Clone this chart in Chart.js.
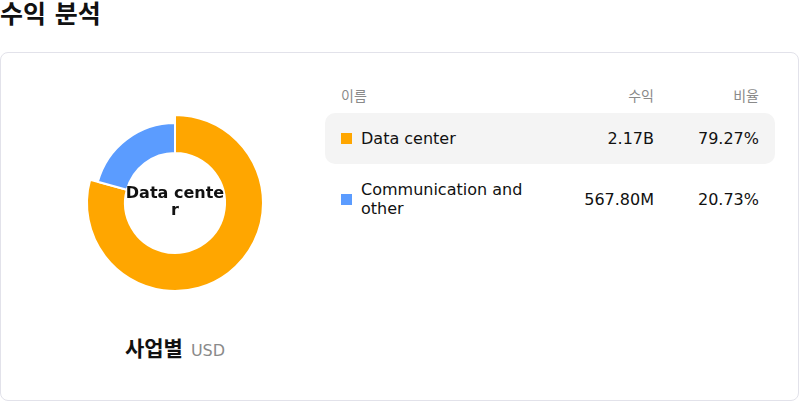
<!DOCTYPE html>
<html>
<head>
<meta charset="utf-8">
<script src="https://cdn.jsdelivr.net/npm/chart.js@4.4.1/dist/chart.umd.min.js"></script>
<style>
  body { margin: 0; width: 800px; height: 402px; background: #fff; font-family: "DejaVu Sans", "Noto Sans CJK KR", sans-serif; position: relative; overflow: hidden; color: #111; }
  .title { position: absolute; left: 0; top: 0; font-size: 25px; font-weight: bold; line-height: 30px; }
  .card { position: absolute; left: 0; top: 52px; width: 797px; height: 347px; border: 1px solid #e2e2ea; border-radius: 8px; }
  .donut { position: absolute; left: 75px; top: 103px; width: 200px; height: 200px; }
  .center-label { position: absolute; left: 125px; top: 184px; width: 100px; text-align: center; font-weight: bold; font-size: 16px; line-height: 17px; word-break: break-all; }
  .caption { position: absolute; left: 0; top: 336px; width: 350px; text-align: center; line-height: 26px; }
  .caption b { font-size: 21px; }
  .caption span { font-size: 16px; color: #8a8a8a; margin-left: 8px; }
  .tbl { position: absolute; left: 325px; top: 83px; width: 450px; }
  .row { display: flex; align-items: center; border-radius: 10px; }
  .row.head { height: 24px; font-size: 14px; color: #8a8a8a; margin-bottom: 6px; }
  .row.item { padding: 16px 0; font-size: 16px; line-height: 19px; }
  .row.active { background: #f4f4f4; }
  .c1 { width: 219px; padding-left: 16px; display: flex; align-items: center; }
  .c1 .txt { width: 185px; }
  .c2 { width: 94px; padding-right: 16px; text-align: right; }
  .c3 { width: 89px; padding-right: 16px; text-align: right; }
  .sq { width: 11px; height: 11px; margin-right: 9px; flex: none; }
</style>
</head>
<body>
<div class="title">수익 분석</div>
<div class="card"></div>
<div class="donut"><canvas id="donut"></canvas></div>
<div class="center-label" id="centerLabel"></div>
<div class="caption"><b>사업별</b><span>USD</span></div>
<div class="tbl" id="tbl"></div>
<script>
const categories = ['Data center', 'Communication and other'];
const revenue = [2170000000, 567800000];
const revenueLabels = ['2.17B', '567.80M'];
const shareLabels = ['79.27%', '20.73%'];
const colors = ['#ffa600', '#5b9cff'];
const headers = ['이름', '수익', '비율'];
const activeIndex = 0;

// table
const tbl = document.getElementById('tbl');
let html = '<div class="row head"><div class="c1">' + headers[0] + '</div><div class="c2">' + headers[1] + '</div><div class="c3">' + headers[2] + '</div></div>';
categories.forEach((c, i) => {
  html += '<div class="row item' + (i === activeIndex ? ' active' : '') + '">' +
    '<div class="c1"><div class="sq" style="background:' + colors[i] + '"></div><div class="txt">' + c + '</div></div>' +
    '<div class="c2">' + revenueLabels[i] + '</div>' +
    '<div class="c3">' + shareLabels[i] + '</div></div>';
});
tbl.innerHTML = html;
document.getElementById('centerLabel').textContent = categories[activeIndex];

// enlarge the highlighted slice outward
const emphasis = {
  id: 'emphasis',
  beforeDatasetsDraw(chart) {
    const meta = chart.getDatasetMeta(0);
    const arc = meta.data[activeIndex];
    if (arc) arc.outerRadius = meta.controller.outerRadius + 8;
  }
};

new Chart(document.getElementById('donut'), {
  type: 'doughnut',
  data: {
    labels: categories,
    datasets: [{
      data: revenue,
      backgroundColor: colors,
      borderColor: '#fff',
      borderWidth: 2,
      hoverOffset: 0,
      clip: false
    }]
  },
  options: {
    responsive: true,
    maintainAspectRatio: false,
    animation: false,
    events: [],
    cutout: '62.5%',
    layout: { padding: 19 },
    plugins: {
      legend: { display: false },
      tooltip: { enabled: false }
    }
  },
  plugins: [emphasis]
});
</script>
</body>
</html>
